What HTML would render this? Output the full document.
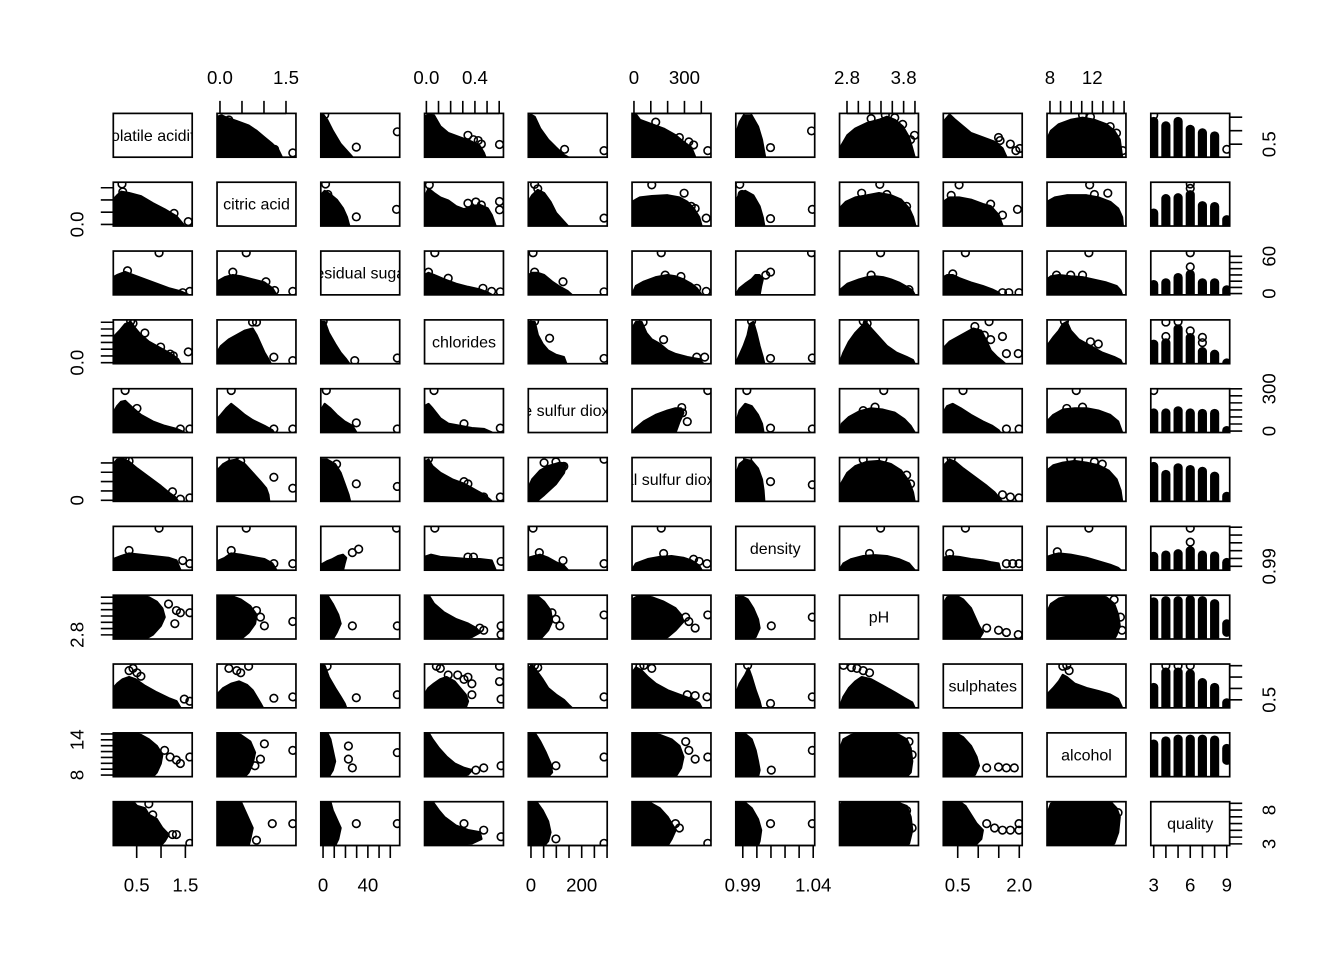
<!DOCTYPE html>
<html><head><meta charset="utf-8">
<style>
html,body{margin:0;padding:0;background:#fff;overflow:hidden;}
svg{display:block;}
text{font-family:"Liberation Sans",Arial,sans-serif;fill:#000;}
.ax{font-size:18.67px;}
.dg{font-size:16px;}
.pn path{stroke:#000;stroke-width:2.4;stroke-linejoin:round;vector-effect:non-scaling-stroke;}
</style></head>
<body>
<svg width="1344" height="960" viewBox="0 0 1344 960" xmlns="http://www.w3.org/2000/svg">
<defs>
<clipPath id="pc"><rect x="0" y="0" width="100" height="100"/></clipPath>
<g id="e"><circle cx="0" cy="0" r="3.8" transform="scale(1.2674,2.2831)" fill="none" stroke="#000" stroke-width="1.6"/></g>
<rect id="b" width="78.9" height="43.8" fill="none" stroke="#000" stroke-width="1.7"/>
<g id="br">
<use href="#b" x="113.3"/><use href="#b" x="217.05"/><use href="#b" x="320.8"/><use href="#b" x="424.55"/><use href="#b" x="528.3"/><use href="#b" x="632.05"/><use href="#b" x="735.8"/><use href="#b" x="839.55"/><use href="#b" x="943.3"/><use href="#b" x="1047.05"/><use href="#b" x="1150.8"/>
</g>
<clipPath id="d0"><rect x="113.3" y="113.4" width="78.9" height="43.8"/></clipPath>
<clipPath id="d1"><rect x="217.05" y="182.23" width="78.9" height="43.8"/></clipPath>
<clipPath id="d2"><rect x="320.8" y="251.06" width="78.9" height="43.8"/></clipPath>
<clipPath id="d3"><rect x="424.55" y="319.89" width="78.9" height="43.8"/></clipPath>
<clipPath id="d4"><rect x="528.3" y="388.72" width="78.9" height="43.8"/></clipPath>
<clipPath id="d5"><rect x="632.05" y="457.55" width="78.9" height="43.8"/></clipPath>
<clipPath id="d6"><rect x="735.8" y="526.38" width="78.9" height="43.8"/></clipPath>
<clipPath id="d7"><rect x="839.55" y="595.21" width="78.9" height="43.8"/></clipPath>
<clipPath id="d8"><rect x="943.3" y="664.04" width="78.9" height="43.8"/></clipPath>
<clipPath id="d9"><rect x="1047.05" y="732.87" width="78.9" height="43.8"/></clipPath>
<clipPath id="d10"><rect x="1150.8" y="801.7" width="78.9" height="43.8"/></clipPath>
</defs>
<rect x="0" y="0" width="1344" height="960" fill="#fff"/>

<g fill="#000" class="pn">
<!-- ROW 0 -->
<g transform="translate(217.05,113.4) scale(.789,.438)"><g clip-path="url(#pc)"><path d="M0,100L0,8 6,5 12,10 25,18 40,28 50,40 60,55 70,70 78,85 82,100Z"/><use href="#e" x="15" y="15"/><use href="#e" x="73" y="82"/><use href="#e" x="96" y="90"/></g></g>
<g transform="translate(320.8,113.4) scale(.789,.438)"><g clip-path="url(#pc)"><path d="M0,100L0,5 3,3 8,15 15,40 25,70 35,90 40,100Z"/><use href="#e" x="5" y="3"/><use href="#e" x="45" y="77"/><use href="#e" x="97" y="42"/></g></g>
<g transform="translate(424.55,113.4) scale(.789,.438)"><g clip-path="url(#pc)"><path d="M0,100L0,8 5,3 12,5 20,30 30,45 45,55 60,65 70,75 75,90 77,100Z"/><use href="#e" x="55" y="50"/><use href="#e" x="62" y="60"/><use href="#e" x="68" y="62"/><use href="#e" x="72" y="70"/><use href="#e" x="95" y="71"/></g></g>
<g transform="translate(528.3,113.4) scale(.789,.438)"><g clip-path="url(#pc)"><path d="M0,100L0,8 3,3 8,8 15,35 25,60 35,78 45,95 50,100Z"/><use href="#e" x="46" y="82"/><use href="#e" x="96" y="85"/></g></g>
<g transform="translate(632.05,113.4) scale(.789,.438)"><g clip-path="url(#pc)"><path d="M0,100L0,5 5,3 10,15 25,25 40,35 55,50 65,65 75,78 80,100Z"/><use href="#e" x="30" y="20"/><use href="#e" x="60" y="55"/><use href="#e" x="72" y="65"/><use href="#e" x="78" y="72"/><use href="#e" x="96" y="85"/></g></g>
<g transform="translate(735.8,113.4) scale(.789,.438)"><g clip-path="url(#pc)"><path d="M0,100L0,50 5,20 10,5 20,5 28,30 33,60 36,90 37,100Z"/><use href="#e" x="15" y="3"/><use href="#e" x="44" y="78"/><use href="#e" x="96" y="40"/></g></g>
<g transform="translate(839.55,113.4) scale(.789,.438)"><g clip-path="url(#pc)"><path d="M0,100L2,75 10,50 20,35 35,22 50,15 60,8 70,15 80,30 88,55 92,80 95,100Z"/><use href="#e" x="40" y="12"/><use href="#e" x="58" y="4"/><use href="#e" x="70" y="10"/><use href="#e" x="80" y="25"/><use href="#e" x="90" y="60"/><use href="#e" x="95" y="50"/></g></g>
<g transform="translate(943.3,113.4) scale(.789,.438)"><g clip-path="url(#pc)"><path d="M0,100L0,20 8,3 15,15 25,30 35,45 50,55 65,65 75,80 80,100Z"/><use href="#e" x="70" y="55"/><use href="#e" x="72" y="62"/><use href="#e" x="85" y="70"/><use href="#e" x="92" y="85"/><use href="#e" x="97" y="80"/></g></g>
<g transform="translate(1047.05,113.4) scale(.789,.438)"><g clip-path="url(#pc)"><path d="M0,100L0,60 5,40 15,25 30,15 45,10 60,15 75,25 85,40 92,60 95,100Z"/><use href="#e" x="45" y="4"/><use href="#e" x="55" y="8"/><use href="#e" x="80" y="30"/><use href="#e" x="88" y="45"/><use href="#e" x="96" y="85"/></g></g>

<!-- ROW 1 -->
<g transform="translate(113.3,182.23) scale(.789,.438)"><g clip-path="url(#pc)"><path d="M0,100L0,40 5,30 10,22 20,25 35,32 50,48 65,62 80,78 88,95 90,100Z"/><use href="#e" x="11" y="4"/><use href="#e" x="12" y="22"/><use href="#e" x="77" y="71"/><use href="#e" x="95" y="90"/></g></g>
<g transform="translate(320.8,182.23) scale(.789,.438)"><g clip-path="url(#pc)"><path d="M0,100L0,30 5,20 12,28 20,40 28,60 33,80 36,100Z"/><use href="#e" x="6" y="4"/><use href="#e" x="9" y="28"/><use href="#e" x="45" y="79"/><use href="#e" x="96" y="62"/></g></g>
<g transform="translate(424.55,182.23) scale(.789,.438)"><g clip-path="url(#pc)"><path d="M0,100L0,35 5,15 12,25 20,35 30,42 40,55 50,62 60,55 70,52 80,60 85,75 90,100Z"/><use href="#e" x="6" y="6"/><use href="#e" x="55" y="48"/><use href="#e" x="65" y="45"/><use href="#e" x="72" y="52"/><use href="#e" x="95" y="44"/><use href="#e" x="95" y="63"/></g></g>
<g transform="translate(528.3,182.23) scale(.789,.438)"><g clip-path="url(#pc)"><path d="M0,100L0,45 5,30 12,18 20,25 28,45 35,70 45,90 50,100Z"/><use href="#e" x="8" y="5"/><use href="#e" x="12" y="15"/><use href="#e" x="96" y="82"/></g></g>
<g transform="translate(632.05,182.23) scale(.789,.438)"><g clip-path="url(#pc)"><path d="M0,100L0,45 10,35 25,32 45,30 60,35 70,45 78,60 85,80 88,100Z"/><use href="#e" x="25" y="6"/><use href="#e" x="66" y="25"/><use href="#e" x="75" y="55"/><use href="#e" x="80" y="60"/><use href="#e" x="94" y="82"/></g></g>
<g transform="translate(735.8,182.23) scale(.789,.438)"><g clip-path="url(#pc)"><path d="M0,100L0,45 5,25 12,20 22,30 30,55 34,80 36,100Z"/><use href="#e" x="5" y="5"/><use href="#e" x="8" y="28"/><use href="#e" x="44" y="83"/><use href="#e" x="97" y="62"/></g></g>
<g transform="translate(839.55,182.23) scale(.789,.438)"><g clip-path="url(#pc)"><path d="M0,100L0,60 8,45 20,35 35,30 50,25 65,30 78,40 88,60 93,80 96,100Z"/><use href="#e" x="28" y="25"/><use href="#e" x="51" y="5"/><use href="#e" x="60" y="28"/><use href="#e" x="85" y="55"/></g></g>
<g transform="translate(943.3,182.23) scale(.789,.438)"><g clip-path="url(#pc)"><path d="M0,100L0,45 8,35 20,35 35,40 50,50 60,55 70,75 75,100Z"/><use href="#e" x="20" y="6"/><use href="#e" x="10" y="30"/><use href="#e" x="60" y="50"/><use href="#e" x="75" y="75"/><use href="#e" x="94" y="62"/></g></g>
<g transform="translate(1047.05,182.23) scale(.789,.438)"><g clip-path="url(#pc)"><path d="M0,100L0,45 10,35 25,30 50,30 65,35 80,45 90,60 95,80 96,100Z"/><use href="#e" x="54" y="6"/><use href="#e" x="77" y="25"/><use href="#e" x="60" y="28"/></g></g>

<!-- ROW 2 -->
<g transform="translate(113.3,251.06) scale(.789,.438)"><g clip-path="url(#pc)"><path d="M0,100L0,60 5,55 15,48 25,55 40,65 55,75 70,85 85,92 95,100Z"/><use href="#e" x="58" y="4"/><use href="#e" x="18" y="45"/><use href="#e" x="88" y="95"/><use href="#e" x="97" y="92"/></g></g>
<g transform="translate(217.05,251.06) scale(.789,.438)"><g clip-path="url(#pc)"><path d="M0,100L0,70 10,60 20,55 30,58 45,65 60,72 70,85 75,100Z"/><use href="#e" x="37" y="4"/><use href="#e" x="20" y="48"/><use href="#e" x="62" y="70"/><use href="#e" x="73" y="90"/><use href="#e" x="96" y="92"/></g></g>
<g transform="translate(424.55,251.06) scale(.789,.438)"><g clip-path="url(#pc)"><path d="M0,100L0,55 5,50 12,55 25,65 40,75 55,82 70,88 80,95 85,100Z"/><use href="#e" x="13" y="4"/><use href="#e" x="5" y="48"/><use href="#e" x="30" y="62"/><use href="#e" x="74" y="85"/><use href="#e" x="85" y="92"/><use href="#e" x="96" y="93"/></g></g>
<g transform="translate(528.3,251.06) scale(.789,.438)"><g clip-path="url(#pc)"><path d="M0,100L0,55 5,50 12,50 20,55 30,70 40,82 50,92 55,100Z"/><use href="#e" x="6" y="4"/><use href="#e" x="8" y="48"/><use href="#e" x="44" y="70"/><use href="#e" x="96" y="93"/></g></g>
<g transform="translate(632.05,251.06) scale(.789,.438)"><g clip-path="url(#pc)"><path d="M0,100L5,80 15,70 30,60 45,55 55,58 65,65 75,75 82,85 88,100Z"/><use href="#e" x="37" y="4"/><use href="#e" x="42" y="55"/><use href="#e" x="62" y="58"/><use href="#e" x="82" y="85"/><use href="#e" x="94" y="92"/></g></g>
<g transform="translate(735.8,251.06) scale(.789,.438)"><g clip-path="url(#pc)"><path d="M0,100L5,85 12,75 20,65 25,55 30,55 34,65 32,80 30,100Z"/><use href="#e" x="44" y="48"/><use href="#e" x="96" y="4"/><use href="#e" x="38" y="55"/></g></g>
<g transform="translate(839.55,251.06) scale(.789,.438)"><g clip-path="url(#pc)"><path d="M0,100L0,90 10,75 25,65 35,60 45,58 55,60 65,65 75,72 85,82 92,90 95,100Z"/><use href="#e" x="52" y="4"/><use href="#e" x="40" y="55"/><use href="#e" x="88" y="88"/></g></g>
<g transform="translate(943.3,251.06) scale(.789,.438)"><g clip-path="url(#pc)"><path d="M0,100L0,60 5,55 12,55 20,62 35,72 50,80 62,88 70,95 72,100Z"/><use href="#e" x="28" y="4"/><use href="#e" x="12" y="52"/><use href="#e" x="75" y="95"/><use href="#e" x="83" y="95"/><use href="#e" x="96" y="95"/></g></g>
<g transform="translate(1047.05,251.06) scale(.789,.438)"><g clip-path="url(#pc)"><path d="M0,100L0,65 5,58 15,55 30,58 45,60 60,66 75,72 88,80 93,90 95,100Z"/><use href="#e" x="53" y="4"/><use href="#e" x="12" y="55"/><use href="#e" x="30" y="55"/><use href="#e" x="45" y="55"/></g></g>

<!-- ROW 3 -->
<g transform="translate(113.3,319.89) scale(.789,.438)"><g clip-path="url(#pc)"><path d="M0,100L0,40 8,25 15,10 22,5 28,20 35,35 45,50 55,60 65,70 75,80 82,90 85,100Z"/><use href="#e" x="22" y="3"/><use href="#e" x="25" y="8"/><use href="#e" x="40" y="30"/><use href="#e" x="60" y="62"/><use href="#e" x="72" y="78"/><use href="#e" x="76" y="82"/><use href="#e" x="95" y="73"/></g></g>
<g transform="translate(217.05,319.89) scale(.789,.438)"><g clip-path="url(#pc)"><path d="M0,100L0,75 5,60 15,45 25,35 35,25 45,20 50,35 55,55 60,75 65,90 68,100Z"/><use href="#e" x="45" y="5"/><use href="#e" x="50" y="5"/><use href="#e" x="38" y="35"/><use href="#e" x="72" y="85"/><use href="#e" x="96" y="93"/></g></g>
<g transform="translate(320.8,319.89) scale(.789,.438)"><g clip-path="url(#pc)"><path d="M0,100L0,5 5,5 10,30 18,55 25,75 32,90 36,100Z"/><use href="#e" x="3" y="3"/><use href="#e" x="43" y="93"/><use href="#e" x="97" y="87"/></g></g>
<g transform="translate(528.3,319.89) scale(.789,.438)"><g clip-path="url(#pc)"><path d="M0,100L0,5 8,5 12,35 18,55 25,70 35,80 45,85 48,100Z"/><use href="#e" x="8" y="3"/><use href="#e" x="27" y="42"/><use href="#e" x="96" y="88"/></g></g>
<g transform="translate(632.05,319.89) scale(.789,.438)"><g clip-path="url(#pc)"><path d="M0,100L0,20 5,5 12,5 18,30 25,45 35,55 45,70 55,78 70,85 85,90 90,100Z"/><use href="#e" x="14" y="5"/><use href="#e" x="40" y="45"/><use href="#e" x="82" y="85"/><use href="#e" x="92" y="85"/></g></g>
<g transform="translate(735.8,319.89) scale(.789,.438)"><g clip-path="url(#pc)"><path d="M0,100L5,80 10,60 15,35 18,10 22,5 26,30 30,60 34,85 36,100Z"/><use href="#e" x="20" y="3"/><use href="#e" x="44" y="88"/><use href="#e" x="97" y="87"/></g></g>
<g transform="translate(839.55,319.89) scale(.789,.438)"><g clip-path="url(#pc)"><path d="M0,100L5,75 12,50 20,30 28,15 33,5 40,20 50,40 60,60 72,75 85,85 93,92 95,100Z"/><use href="#e" x="30" y="3"/><use href="#e" x="35" y="8"/></g></g>
<g transform="translate(943.3,319.89) scale(.789,.438)"><g clip-path="url(#pc)"><path d="M0,100L0,65 8,50 18,40 28,30 38,20 48,25 55,50 60,70 68,85 75,95 78,100Z"/><use href="#e" x="40" y="15"/><use href="#e" x="52" y="35"/><use href="#e" x="58" y="4"/><use href="#e" x="75" y="38"/><use href="#e" x="80" y="77"/><use href="#e" x="95" y="77"/><use href="#e" x="60" y="45"/></g></g>
<g transform="translate(1047.05,319.89) scale(.789,.438)"><g clip-path="url(#pc)"><path d="M0,100L0,60 8,40 15,25 20,10 25,5 30,25 40,45 55,60 70,75 85,85 93,92 95,100Z"/><use href="#e" x="22" y="3"/><use href="#e" x="55" y="50"/><use href="#e" x="65" y="55"/></g></g>

<!-- ROW 4 -->
<g transform="translate(113.3,388.72) scale(.789,.438)"><g clip-path="url(#pc)"><path d="M0,100L0,55 5,40 10,30 15,28 25,45 35,60 50,75 65,85 80,92 90,100Z"/><use href="#e" x="15" y="4"/><use href="#e" x="30" y="45"/><use href="#e" x="85" y="92"/><use href="#e" x="97" y="92"/></g></g>
<g transform="translate(217.05,388.72) scale(.789,.438)"><g clip-path="url(#pc)"><path d="M0,100L0,70 5,60 12,45 18,35 25,45 35,60 45,72 60,85 70,95 72,100Z"/><use href="#e" x="18" y="4"/><use href="#e" x="72" y="92"/><use href="#e" x="96" y="92"/></g></g>
<g transform="translate(320.8,388.72) scale(.789,.438)"><g clip-path="url(#pc)"><path d="M0,100L0,50 5,35 12,45 20,60 30,75 40,85 45,100Z"/><use href="#e" x="7" y="4"/><use href="#e" x="45" y="78"/><use href="#e" x="97" y="92"/></g></g>
<g transform="translate(424.55,388.72) scale(.789,.438)"><g clip-path="url(#pc)"><path d="M0,100L0,40 5,35 10,45 20,68 30,80 45,85 60,90 75,92 85,100Z"/><use href="#e" x="12" y="4"/><use href="#e" x="50" y="80"/><use href="#e" x="96" y="90"/></g></g>
<g transform="translate(632.05,388.72) scale(.789,.438)"><g clip-path="url(#pc)"><path d="M0,100L5,90 15,75 30,60 45,50 55,45 62,45 65,55 60,75 55,100Z"/><use href="#e" x="63" y="43"/><use href="#e" x="64" y="55"/><use href="#e" x="70" y="75"/><use href="#e" x="96" y="4"/></g></g>
<g transform="translate(735.8,388.72) scale(.789,.438)"><g clip-path="url(#pc)"><path d="M0,100L0,80 5,50 12,35 20,40 28,60 33,80 35,100Z"/><use href="#e" x="14" y="4"/><use href="#e" x="44" y="90"/><use href="#e" x="97" y="92"/></g></g>
<g transform="translate(839.55,388.72) scale(.789,.438)"><g clip-path="url(#pc)"><path d="M0,100L3,80 12,65 25,52 40,45 55,48 70,55 82,70 90,85 95,100Z"/><use href="#e" x="56" y="4"/><use href="#e" x="45" y="42"/><use href="#e" x="30" y="50"/></g></g>
<g transform="translate(943.3,388.72) scale(.789,.438)"><g clip-path="url(#pc)"><path d="M0,100L0,55 5,40 12,35 22,45 35,60 50,75 62,85 70,95 72,100Z"/><use href="#e" x="25" y="4"/><use href="#e" x="80" y="92"/><use href="#e" x="96" y="92"/></g></g>
<g transform="translate(1047.05,388.72) scale(.789,.438)"><g clip-path="url(#pc)"><path d="M0,100L0,75 8,60 20,48 35,45 50,45 65,50 80,60 90,75 95,100Z"/><use href="#e" x="37" y="4"/><use href="#e" x="25" y="45"/><use href="#e" x="45" y="42"/></g></g>

<!-- ROW 5 -->
<g transform="translate(113.3,457.55) scale(.789,.438)"><g clip-path="url(#pc)"><path d="M0,100L0,15 5,5 12,3 20,10 30,25 45,45 60,65 70,80 78,90 82,100Z"/><use href="#e" x="15" y="3"/><use href="#e" x="20" y="8"/><use href="#e" x="75" y="78"/><use href="#e" x="85" y="95"/><use href="#e" x="97" y="92"/></g></g>
<g transform="translate(217.05,457.55) scale(.789,.438)"><g clip-path="url(#pc)"><path d="M0,100L0,30 8,15 15,8 25,5 35,15 45,35 55,55 62,70 65,85 66,100Z"/><use href="#e" x="20" y="3"/><use href="#e" x="30" y="8"/><use href="#e" x="72" y="45"/><use href="#e" x="96" y="70"/></g></g>
<g transform="translate(320.8,457.55) scale(.789,.438)"><g clip-path="url(#pc)"><path d="M0,100L0,5 8,5 18,15 25,35 30,60 35,85 37,100Z"/><use href="#e" x="20" y="15"/><use href="#e" x="45" y="60"/><use href="#e" x="97" y="66"/></g></g>
<g transform="translate(424.55,457.55) scale(.789,.438)"><g clip-path="url(#pc)"><path d="M0,100L0,10 5,5 10,20 20,35 35,50 50,60 65,75 75,85 82,95 85,100Z"/><use href="#e" x="5" y="3"/><use href="#e" x="50" y="55"/><use href="#e" x="55" y="60"/><use href="#e" x="75" y="90"/><use href="#e" x="96" y="90"/></g></g>
<g transform="translate(528.3,457.55) scale(.789,.438)"><g clip-path="url(#pc)"><path d="M0,100L0,70 5,50 15,30 25,20 40,12 48,15 45,35 35,60 20,85 10,100Z"/><use href="#e" x="20" y="12"/><use href="#e" x="35" y="10"/><use href="#e" x="40" y="22"/><use href="#e" x="45" y="20"/><use href="#e" x="96" y="4"/></g></g>
<g transform="translate(735.8,457.55) scale(.789,.438)"><g clip-path="url(#pc)"><path d="M0,100L0,40 5,15 12,5 20,8 28,25 33,50 35,75 36,100Z"/><use href="#e" x="15" y="3"/><use href="#e" x="44" y="55"/><use href="#e" x="97" y="62"/></g></g>
<g transform="translate(839.55,457.55) scale(.789,.438)"><g clip-path="url(#pc)"><path d="M0,100L2,60 10,35 20,20 35,10 50,8 65,15 78,30 88,55 93,80 95,100Z"/><use href="#e" x="30" y="5"/><use href="#e" x="55" y="3"/><use href="#e" x="85" y="40"/><use href="#e" x="90" y="60"/></g></g>
<g transform="translate(943.3,457.55) scale(.789,.438)"><g clip-path="url(#pc)"><path d="M0,100L0,20 8,5 15,10 25,25 40,45 55,65 65,80 72,95 74,100Z"/><use href="#e" x="10" y="3"/><use href="#e" x="75" y="85"/><use href="#e" x="85" y="90"/><use href="#e" x="96" y="92"/></g></g>
<g transform="translate(1047.05,457.55) scale(.789,.438)"><g clip-path="url(#pc)"><path d="M0,100L0,30 8,18 20,12 35,8 50,12 65,18 78,30 88,50 93,75 95,100Z"/><use href="#e" x="30" y="3"/><use href="#e" x="40" y="5"/><use href="#e" x="60" y="10"/><use href="#e" x="70" y="15"/></g></g>

<!-- ROW 6 -->
<g transform="translate(113.3,526.38) scale(.789,.438)"><g clip-path="url(#pc)"><path d="M0,100L0,75 10,68 20,62 30,64 50,68 70,72 80,78 85,100Z"/><use href="#e" x="58" y="4"/><use href="#e" x="20" y="55"/><use href="#e" x="88" y="78"/><use href="#e" x="97" y="85"/></g></g>
<g transform="translate(217.05,526.38) scale(.789,.438)"><g clip-path="url(#pc)"><path d="M0,100L0,80 10,72 18,62 30,65 45,70 60,75 70,85 75,100Z"/><use href="#e" x="37" y="4"/><use href="#e" x="18" y="55"/><use href="#e" x="72" y="85"/><use href="#e" x="96" y="85"/></g></g>
<g transform="translate(320.8,526.38) scale(.789,.438)"><g clip-path="url(#pc)"><path d="M0,100L0,88 8,80 15,75 22,68 28,65 32,72 30,85 28,100Z"/><use href="#e" x="48" y="52"/><use href="#e" x="96" y="4"/><use href="#e" x="40" y="60"/></g></g>
<g transform="translate(424.55,526.38) scale(.789,.438)"><g clip-path="url(#pc)"><path d="M0,100L0,70 8,65 20,70 35,72 55,75 70,75 85,78 90,100Z"/><use href="#e" x="13" y="4"/><use href="#e" x="55" y="70"/><use href="#e" x="62" y="70"/><use href="#e" x="97" y="80"/></g></g>
<g transform="translate(528.3,526.38) scale(.789,.438)"><g clip-path="url(#pc)"><path d="M0,100L0,72 8,68 15,65 25,72 35,82 45,90 50,100Z"/><use href="#e" x="6" y="4"/><use href="#e" x="14" y="60"/><use href="#e" x="44" y="78"/><use href="#e" x="96" y="85"/></g></g>
<g transform="translate(632.05,526.38) scale(.789,.438)"><g clip-path="url(#pc)"><path d="M0,100L5,85 20,75 35,70 50,68 65,72 75,78 85,90 88,100Z"/><use href="#e" x="37" y="4"/><use href="#e" x="40" y="62"/><use href="#e" x="78" y="75"/><use href="#e" x="85" y="80"/><use href="#e" x="95" y="85"/></g></g>
<g transform="translate(839.55,526.38) scale(.789,.438)"><g clip-path="url(#pc)"><path d="M0,100L5,85 15,75 30,68 45,66 60,68 75,75 88,85 95,100Z"/><use href="#e" x="52" y="4"/><use href="#e" x="38" y="62"/></g></g>
<g transform="translate(943.3,526.38) scale(.789,.438)"><g clip-path="url(#pc)"><path d="M0,100L0,72 8,68 20,70 35,75 50,78 60,82 70,85 72,100Z"/><use href="#e" x="28" y="4"/><use href="#e" x="8" y="62"/><use href="#e" x="80" y="85"/><use href="#e" x="88" y="85"/><use href="#e" x="96" y="85"/></g></g>
<g transform="translate(1047.05,526.38) scale(.789,.438)"><g clip-path="url(#pc)"><path d="M0,100L0,70 8,65 15,62 30,65 50,72 65,80 80,88 90,95 93,100Z"/><use href="#e" x="53" y="4"/><use href="#e" x="13" y="58"/></g></g>

<!-- ROW 7 -->
<g transform="translate(113.3,595.21) scale(.789,.438)"><g clip-path="url(#pc)"><path d="M0,100L0,0 30,0 45,5 55,15 62,30 65,50 60,70 50,90 40,100Z"/><use href="#e" x="70" y="20"/><use href="#e" x="80" y="35"/><use href="#e" x="85" y="40"/><use href="#e" x="78" y="65"/><use href="#e" x="97" y="40"/></g></g>
<g transform="translate(217.05,595.21) scale(.789,.438)"><g clip-path="url(#pc)"><path d="M0,100L0,0 15,0 30,10 42,25 50,45 48,65 40,85 30,100Z"/><use href="#e" x="50" y="35"/><use href="#e" x="55" y="50"/><use href="#e" x="60" y="70"/><use href="#e" x="96" y="60"/></g></g>
<g transform="translate(320.8,595.21) scale(.789,.438)"><g clip-path="url(#pc)"><path d="M0,100L0,0 8,0 15,20 22,45 25,65 20,85 15,100Z"/><use href="#e" x="40" y="70"/><use href="#e" x="97" y="70"/></g></g>
<g transform="translate(424.55,595.21) scale(.789,.438)"><g clip-path="url(#pc)"><path d="M0,100L0,0 5,0 12,20 25,40 40,55 55,65 65,75 70,85 60,95 45,100Z"/><use href="#e" x="70" y="75"/><use href="#e" x="75" y="80"/><use href="#e" x="97" y="70"/><use href="#e" x="97" y="90"/></g></g>
<g transform="translate(528.3,595.21) scale(.789,.438)"><g clip-path="url(#pc)"><path d="M0,100L0,0 10,0 20,15 28,35 30,60 25,80 15,100Z"/><use href="#e" x="30" y="40"/><use href="#e" x="35" y="55"/><use href="#e" x="40" y="70"/><use href="#e" x="96" y="45"/></g></g>
<g transform="translate(632.05,595.21) scale(.789,.438)"><g clip-path="url(#pc)"><path d="M0,100L0,10 10,0 25,5 40,15 55,30 62,45 65,60 55,80 45,95 40,100Z"/><use href="#e" x="68" y="50"/><use href="#e" x="72" y="60"/><use href="#e" x="80" y="75"/><use href="#e" x="96" y="45"/></g></g>
<g transform="translate(735.8,595.21) scale(.789,.438)"><g clip-path="url(#pc)"><path d="M0,100L0,10 5,0 15,10 22,30 28,55 30,75 25,95 20,100Z"/><use href="#e" x="45" y="70"/><use href="#e" x="97" y="50"/></g></g>
<g transform="translate(943.3,595.21) scale(.789,.438)"><g clip-path="url(#pc)"><path d="M0,100L0,20 5,5 15,0 25,10 35,30 40,50 45,70 50,85 45,100Z"/><use href="#e" x="55" y="75"/><use href="#e" x="70" y="80"/><use href="#e" x="80" y="85"/><use href="#e" x="95" y="90"/></g></g>
<g transform="translate(1047.05,595.21) scale(.789,.438)"><g clip-path="url(#pc)"><path d="M0,100L0,40 5,20 15,8 35,0 60,0 75,5 85,20 90,45 92,70 88,90 85,100Z"/><use href="#e" x="85" y="10"/><use href="#e" x="93" y="50"/><use href="#e" x="95" y="80"/></g></g>

<!-- ROW 8 -->
<g transform="translate(113.3,664.04) scale(.789,.438)"><g clip-path="url(#pc)"><path d="M0,100L0,55 5,45 12,35 20,30 28,35 40,50 55,65 70,78 80,85 85,100Z"/><use href="#e" x="20" y="15"/><use href="#e" x="25" y="10"/><use href="#e" x="30" y="20"/><use href="#e" x="35" y="28"/><use href="#e" x="90" y="80"/><use href="#e" x="97" y="85"/></g></g>
<g transform="translate(217.05,664.04) scale(.789,.438)"><g clip-path="url(#pc)"><path d="M0,100L0,70 8,55 18,45 28,40 38,48 45,60 50,75 55,90 58,100Z"/><use href="#e" x="15" y="10"/><use href="#e" x="25" y="15"/><use href="#e" x="30" y="20"/><use href="#e" x="40" y="5"/><use href="#e" x="72" y="78"/><use href="#e" x="96" y="75"/></g></g>
<g transform="translate(320.8,664.04) scale(.789,.438)"><g clip-path="url(#pc)"><path d="M0,100L0,0 5,5 10,30 18,55 25,75 30,90 32,100Z"/><use href="#e" x="8" y="5"/><use href="#e" x="45" y="77"/><use href="#e" x="97" y="70"/></g></g>
<g transform="translate(424.55,664.04) scale(.789,.438)"><g clip-path="url(#pc)"><path d="M0,100L0,70 5,55 12,45 20,35 28,30 38,40 45,55 52,70 55,85 52,100Z"/><use href="#e" x="15" y="5"/><use href="#e" x="20" y="10"/><use href="#e" x="30" y="25"/><use href="#e" x="42" y="25"/><use href="#e" x="50" y="35"/><use href="#e" x="55" y="30"/><use href="#e" x="60" y="45"/><use href="#e" x="95" y="5"/><use href="#e" x="95" y="40"/><use href="#e" x="97" y="80"/><use href="#e" x="60" y="70"/></g></g>
<g transform="translate(528.3,664.04) scale(.789,.438)"><g clip-path="url(#pc)"><path d="M0,100L0,10 5,3 10,15 18,35 25,55 35,70 45,82 52,95 55,100Z"/><use href="#e" x="8" y="3"/><use href="#e" x="12" y="8"/><use href="#e" x="96" y="75"/></g></g>
<g transform="translate(632.05,664.04) scale(.789,.438)"><g clip-path="url(#pc)"><path d="M0,100L0,20 5,8 12,15 20,30 30,45 45,60 60,70 75,80 85,90 88,100Z"/><use href="#e" x="10" y="5"/><use href="#e" x="15" y="3"/><use href="#e" x="25" y="10"/><use href="#e" x="70" y="70"/><use href="#e" x="80" y="72"/><use href="#e" x="95" y="75"/></g></g>
<g transform="translate(735.8,664.04) scale(.789,.438)"><g clip-path="url(#pc)"><path d="M0,100L0,70 5,45 12,25 16,10 20,30 25,60 30,85 32,100Z"/><use href="#e" x="15" y="3"/><use href="#e" x="44" y="90"/><use href="#e" x="97" y="75"/></g></g>
<g transform="translate(839.55,664.04) scale(.789,.438)"><g clip-path="url(#pc)"><path d="M0,100L5,75 12,55 20,40 28,30 40,35 55,50 70,65 82,78 92,88 95,100Z"/><use href="#e" x="5" y="3"/><use href="#e" x="15" y="8"/><use href="#e" x="22" y="10"/><use href="#e" x="30" y="15"/><use href="#e" x="38" y="20"/></g></g>
<g transform="translate(1047.05,664.04) scale(.789,.438)"><g clip-path="url(#pc)"><path d="M0,100L0,70 8,55 15,40 20,25 25,30 35,45 50,55 65,62 80,70 90,80 95,100Z"/><use href="#e" x="20" y="5"/><use href="#e" x="25" y="3"/><use href="#e" x="28" y="15"/></g></g>

<!-- ROW 9 -->
<g transform="translate(113.3,732.87) scale(.789,.438)"><g clip-path="url(#pc)"><path d="M0,100L0,3 20,0 35,5 45,15 55,30 62,50 60,70 55,90 50,100Z"/><use href="#e" x="65" y="40"/><use href="#e" x="72" y="55"/><use href="#e" x="80" y="62"/><use href="#e" x="85" y="70"/><use href="#e" x="97" y="55"/></g></g>
<g transform="translate(217.05,732.87) scale(.789,.438)"><g clip-path="url(#pc)"><path d="M0,100L0,2 15,0 30,5 42,20 48,45 45,70 40,90 35,100Z"/><use href="#e" x="48" y="75"/><use href="#e" x="55" y="60"/><use href="#e" x="60" y="25"/><use href="#e" x="96" y="40"/></g></g>
<g transform="translate(320.8,732.87) scale(.789,.438)"><g clip-path="url(#pc)"><path d="M0,100L0,0 8,0 12,15 15,40 18,65 15,85 10,100Z"/><use href="#e" x="35" y="30"/><use href="#e" x="35" y="60"/><use href="#e" x="40" y="80"/><use href="#e" x="97" y="45"/></g></g>
<g transform="translate(424.55,732.87) scale(.789,.438)"><g clip-path="url(#pc)"><path d="M0,100L0,0 5,0 10,15 18,35 28,55 38,70 50,80 60,85 55,95 45,100Z"/><use href="#e" x="65" y="85"/><use href="#e" x="75" y="80"/><use href="#e" x="97" y="75"/></g></g>
<g transform="translate(528.3,732.87) scale(.789,.438)"><g clip-path="url(#pc)"><path d="M0,100L0,0 8,0 15,20 22,45 28,70 30,90 25,100Z"/><use href="#e" x="35" y="75"/><use href="#e" x="96" y="55"/></g></g>
<g transform="translate(632.05,732.87) scale(.789,.438)"><g clip-path="url(#pc)"><path d="M0,100L0,0 15,0 35,5 50,15 60,30 65,55 62,80 55,100Z"/><use href="#e" x="68" y="20"/><use href="#e" x="72" y="40"/><use href="#e" x="80" y="60"/><use href="#e" x="96" y="55"/></g></g>
<g transform="translate(735.8,732.87) scale(.789,.438)"><g clip-path="url(#pc)"><path d="M0,100L0,0 10,0 20,15 25,40 28,65 30,85 28,100Z"/><use href="#e" x="45" y="85"/><use href="#e" x="97" y="40"/></g></g>
<g transform="translate(839.55,732.87) scale(.789,.438)"><g clip-path="url(#pc)"><path d="M0,100L0,40 5,15 15,5 30,0 60,0 75,5 85,15 90,35 92,65 90,90 85,100Z"/><use href="#e" x="88" y="20"/><use href="#e" x="92" y="50"/></g></g>
<g transform="translate(943.3,732.87) scale(.789,.438)"><g clip-path="url(#pc)"><path d="M0,100L0,0 15,0 25,10 35,30 42,55 45,75 40,95 35,100Z"/><use href="#e" x="55" y="80"/><use href="#e" x="70" y="78"/><use href="#e" x="80" y="80"/><use href="#e" x="90" y="80"/></g></g>

<!-- ROW 10 -->
<g transform="translate(113.3,801.7) scale(.789,.438)"><g clip-path="url(#pc)"><path d="M0,100L0,0 25,0 30,10 40,15 45,30 55,40 62,60 70,75 65,90 60,100Z"/><use href="#e" x="45" y="5"/><use href="#e" x="50" y="30"/><use href="#e" x="75" y="75"/><use href="#e" x="80" y="75"/><use href="#e" x="97" y="95"/></g></g>
<g transform="translate(217.05,801.7) scale(.789,.438)"><g clip-path="url(#pc)"><path d="M0,100L0,0 30,0 35,20 40,40 45,60 42,85 40,100Z"/><use href="#e" x="70" y="50"/><use href="#e" x="96" y="50"/><use href="#e" x="50" y="88"/></g></g>
<g transform="translate(320.8,801.7) scale(.789,.438)"><g clip-path="url(#pc)"><path d="M0,100L0,0 12,0 15,20 20,40 25,60 22,85 18,100Z"/><use href="#e" x="45" y="50"/><use href="#e" x="97" y="50"/></g></g>
<g transform="translate(424.55,801.7) scale(.789,.438)"><g clip-path="url(#pc)"><path d="M0,100L0,0 10,0 18,20 25,35 40,55 55,65 70,70 72,85 60,95 35,100Z"/><use href="#e" x="50" y="50"/><use href="#e" x="75" y="65"/><use href="#e" x="97" y="80"/></g></g>
<g transform="translate(528.3,801.7) scale(.789,.438)"><g clip-path="url(#pc)"><path d="M0,100L0,0 10,0 18,20 25,45 28,70 25,90 20,100Z"/><use href="#e" x="35" y="85"/><use href="#e" x="96" y="95"/></g></g>
<g transform="translate(632.05,801.7) scale(.789,.438)"><g clip-path="url(#pc)"><path d="M0,100L0,0 20,0 35,15 45,35 50,50 55,65 50,85 45,100Z"/><use href="#e" x="55" y="50"/><use href="#e" x="60" y="60"/><use href="#e" x="96" y="95"/></g></g>
<g transform="translate(735.8,801.7) scale(.789,.438)"><g clip-path="url(#pc)"><path d="M0,100L0,0 10,0 20,15 28,40 32,65 30,90 28,100Z"/><use href="#e" x="44" y="50"/><use href="#e" x="97" y="50"/></g></g>
<g transform="translate(839.55,801.7) scale(.789,.438)"><g clip-path="url(#pc)"><path d="M0,100L0,10 5,0 70,0 85,10 90,35 92,65 88,95 85,100Z"/><use href="#e" x="85" y="20"/><use href="#e" x="92" y="60"/></g></g>
<g transform="translate(943.3,801.7) scale(.789,.438)"><g clip-path="url(#pc)"><path d="M0,100L0,0 20,0 28,10 35,30 42,50 50,65 48,85 40,100Z"/><use href="#e" x="55" y="50"/><use href="#e" x="65" y="60"/><use href="#e" x="75" y="65"/><use href="#e" x="85" y="65"/><use href="#e" x="96" y="50"/><use href="#e" x="96" y="65"/></g></g>
<g transform="translate(1047.05,801.7) scale(.789,.438)"><g clip-path="url(#pc)"><path d="M0,100L0,30 5,5 15,0 80,0 88,15 92,35 90,70 85,95 80,100Z"/><use href="#e" x="15" y="5"/><use href="#e" x="90" y="25"/></g></g>

<!-- QUALITY COLUMN (col 10) bars -->
<g transform="translate(1150.8,113.4) scale(.789,.438)"><g clip-path="url(#pc)">
<rect x="-2.1" y="8" width="11.6" height="110" rx="5.8" ry="10"/><rect x="13.3" y="18" width="11.6" height="100" rx="5.8" ry="10"/><rect x="28.8" y="8" width="11.6" height="110" rx="5.8" ry="10"/><rect x="44.2" y="26" width="11.6" height="100" rx="5.8" ry="10"/><rect x="59.6" y="34" width="11.6" height="100" rx="5.8" ry="10"/><rect x="75.1" y="41" width="11.6" height="100" rx="5.8" ry="10"/><use href="#e" x="96.3" y="82"/><use href="#e" x="3.7" y="4"/></g></g>
<g transform="translate(1150.8,182.23) scale(.789,.438)"><g clip-path="url(#pc)">
<rect x="-2.1" y="60" width="11.6" height="60" rx="5.8" ry="10"/><rect x="13.3" y="27" width="11.6" height="100" rx="5.8" ry="10"/><rect x="28.8" y="25" width="11.6" height="100" rx="5.8" ry="10"/><rect x="44.2" y="18" width="11.6" height="100" rx="5.8" ry="10"/><rect x="59.6" y="43" width="11.6" height="100" rx="5.8" ry="10"/><rect x="75.1" y="45" width="11.6" height="100" rx="5.8" ry="10"/><rect x="90.5" y="75" width="11.6" height="50" rx="5.8" ry="10"/><use href="#e" x="50" y="4"/><use href="#e" x="50" y="14"/></g></g>
<g transform="translate(1150.8,251.06) scale(.789,.438)"><g clip-path="url(#pc)">
<rect x="-2.1" y="66" width="11.6" height="60" rx="5.8" ry="10"/><rect x="13.3" y="62" width="11.6" height="60" rx="5.8" ry="10"/><rect x="28.8" y="50" width="11.6" height="70" rx="5.8" ry="10"/><rect x="44.2" y="43" width="11.6" height="70" rx="5.8" ry="10"/><rect x="59.6" y="62" width="11.6" height="60" rx="5.8" ry="10"/><rect x="75.1" y="62" width="11.6" height="60" rx="5.8" ry="10"/><rect x="90.5" y="78" width="11.6" height="40" rx="5.8" ry="10"/><use href="#e" x="50" y="4"/><use href="#e" x="50" y="36"/></g></g>
<g transform="translate(1150.8,319.89) scale(.789,.438)"><g clip-path="url(#pc)">
<rect x="-2.1" y="45" width="11.6" height="70" rx="5.8" ry="10"/><rect x="13.3" y="42" width="11.6" height="70" rx="5.8" ry="10"/><rect x="28.8" y="10" width="11.6" height="100" rx="5.8" ry="10"/><rect x="44.2" y="30" width="11.6" height="100" rx="5.8" ry="10"/><rect x="59.6" y="62" width="11.6" height="60" rx="5.8" ry="10"/><rect x="75.1" y="68" width="11.6" height="60" rx="5.8" ry="10"/><rect x="90.5" y="88" width="11.6" height="40" rx="5.8" ry="10"/><use href="#e" x="19.1" y="38"/><use href="#e" x="34.6" y="4"/><use href="#e" x="19.1" y="5"/><use href="#e" x="50" y="25"/><use href="#e" x="65.4" y="40"/><use href="#e" x="65.4" y="52"/></g></g>
<g transform="translate(1150.8,388.72) scale(.789,.438)"><g clip-path="url(#pc)">
<rect x="-2.1" y="45" width="11.6" height="70" rx="5.8" ry="10"/><rect x="13.3" y="45" width="11.6" height="70" rx="5.8" ry="10"/><rect x="28.8" y="40" width="11.6" height="70" rx="5.8" ry="10"/><rect x="44.2" y="45" width="11.6" height="70" rx="5.8" ry="10"/><rect x="59.6" y="46" width="11.6" height="70" rx="5.8" ry="10"/><rect x="75.1" y="46" width="11.6" height="70" rx="5.8" ry="10"/><rect x="90.5" y="85" width="11.6" height="40" rx="5.8" ry="10"/><use href="#e" x="3.7" y="4"/></g></g>
<g transform="translate(1150.8,457.55) scale(.789,.438)"><g clip-path="url(#pc)">
<rect x="-2.1" y="10" width="11.6" height="110" rx="5.8" ry="10"/><rect x="13.3" y="28" width="11.6" height="100" rx="5.8" ry="10"/><rect x="28.8" y="13" width="11.6" height="100" rx="5.8" ry="10"/><rect x="44.2" y="17" width="11.6" height="100" rx="5.8" ry="10"/><rect x="59.6" y="21" width="11.6" height="100" rx="5.8" ry="10"/><rect x="75.1" y="32" width="11.6" height="100" rx="5.8" ry="10"/><rect x="90.5" y="78" width="11.6" height="40" rx="5.8" ry="10"/></g></g>
<g transform="translate(1150.8,526.38) scale(.789,.438)"><g clip-path="url(#pc)">
<rect x="-2.1" y="58" width="11.6" height="60" rx="5.8" ry="10"/><rect x="13.3" y="55" width="11.6" height="60" rx="5.8" ry="10"/><rect x="28.8" y="52" width="11.6" height="60" rx="5.8" ry="10"/><rect x="44.2" y="45" width="11.6" height="70" rx="5.8" ry="10"/><rect x="59.6" y="55" width="11.6" height="60" rx="5.8" ry="10"/><rect x="75.1" y="57" width="11.6" height="60" rx="5.8" ry="10"/><rect x="90.5" y="72" width="11.6" height="40" rx="5.8" ry="10"/><use href="#e" x="50" y="4"/><use href="#e" x="50" y="36"/></g></g>
<g transform="translate(1150.8,595.21) scale(.789,.438)"><g clip-path="url(#pc)">
<rect x="-2.1" y="5" width="11.6" height="110" rx="5.8" ry="10"/><rect x="13.3" y="2" width="11.6" height="110" rx="5.8" ry="10"/><rect x="28.8" y="2" width="11.6" height="110" rx="5.8" ry="10"/><rect x="44.2" y="0" width="11.6" height="110" rx="5.8" ry="10"/><rect x="59.6" y="2" width="11.6" height="110" rx="5.8" ry="10"/><rect x="75.1" y="9" width="11.6" height="110" rx="5.8" ry="10"/><rect x="90.5" y="55" width="11.6" height="40" rx="5.8" ry="10"/></g></g>
<g transform="translate(1150.8,664.04) scale(.789,.438)"><g clip-path="url(#pc)">
<rect x="-2.1" y="43" width="11.6" height="70" rx="5.8" ry="10"/><rect x="13.3" y="8" width="11.6" height="110" rx="5.8" ry="10"/><rect x="28.8" y="8" width="11.6" height="110" rx="5.8" ry="10"/><rect x="44.2" y="12" width="11.6" height="110" rx="5.8" ry="10"/><rect x="59.6" y="32" width="11.6" height="100" rx="5.8" ry="10"/><rect x="75.1" y="43" width="11.6" height="70" rx="5.8" ry="10"/><rect x="90.5" y="78" width="11.6" height="40" rx="5.8" ry="10"/><use href="#e" x="19.1" y="4"/><use href="#e" x="34.6" y="4"/><use href="#e" x="50" y="4"/></g></g>
<g transform="translate(1150.8,732.87) scale(.789,.438)"><g clip-path="url(#pc)">
<rect x="-2.1" y="15" width="11.6" height="110" rx="5.8" ry="10"/><rect x="13.3" y="8" width="11.6" height="110" rx="5.8" ry="10"/><rect x="28.8" y="4" width="11.6" height="110" rx="5.8" ry="10"/><rect x="44.2" y="4" width="11.6" height="110" rx="5.8" ry="10"/><rect x="59.6" y="4" width="11.6" height="110" rx="5.8" ry="10"/><rect x="75.1" y="6" width="11.6" height="110" rx="5.8" ry="10"/><rect x="90.5" y="25" width="11.6" height="48" rx="5.8" ry="10"/></g></g>
</g>

<!-- boxes -->
<use href="#br" y="113.4"/><use href="#br" y="182.23"/><use href="#br" y="251.06"/><use href="#br" y="319.89"/><use href="#br" y="388.72"/><use href="#br" y="457.55"/><use href="#br" y="526.38"/><use href="#br" y="595.21"/><use href="#br" y="664.04"/><use href="#br" y="732.87"/><use href="#br" y="801.7"/>

<!-- ticks -->
<path fill="none" stroke="#000" stroke-width="1.6" d="
M219.97,113.4V100.9M241.98,113.4V100.9M263.98,113.4V100.9M285.99,113.4V100.9M219.97,113.4H285.99
M426.38,113.4V100.9M438.52,113.4V100.9M450.65,113.4V100.9M462.79,113.4V100.9M474.92,113.4V100.9M487.06,113.4V100.9M499.19,113.4V100.9M426.38,113.4H499.19
M633.96,113.4V100.9M650.8,113.4V100.9M667.63,113.4V100.9M684.46,113.4V100.9M701.29,113.4V100.9M633.96,113.4H701.29
M847,113.4V100.9M858.33,113.4V100.9M869.65,113.4V100.9M880.98,113.4V100.9M892.31,113.4V100.9M903.63,113.4V100.9M914.96,113.4V100.9M847,113.4H914.96
M1049.97,113.4V100.9M1060.56,113.4V100.9M1071.15,113.4V100.9M1081.73,113.4V100.9M1092.32,113.4V100.9M1102.91,113.4V100.9M1113.5,113.4V100.9M1124.09,113.4V100.9M1049.97,113.4H1124.09
M136.68,845.5V858M161.03,845.5V858M185.38,845.5V858M136.68,845.5H185.38
M323.05,845.5V858M334.25,845.5V858M345.46,845.5V858M356.66,845.5V858M367.87,845.5V858M379.07,845.5V858M390.28,845.5V858M323.05,845.5H390.28
M530.97,845.5V858M543.65,845.5V858M556.33,845.5V858M569.02,845.5V858M581.7,845.5V858M594.38,845.5V858M607.07,845.5V858M530.97,845.5H607.07
M742.79,845.5V858M756.87,845.5V858M770.96,845.5V858M785.04,845.5V858M799.13,845.5V858M813.21,845.5V858M742.79,845.5H813.21
M957.71,845.5V858M978.23,845.5V858M998.76,845.5V858M1019.28,845.5V858M957.71,845.5H1019.28
M1153.72,845.5V858M1165.9,845.5V858M1178.07,845.5V858M1190.25,845.5V858M1202.42,845.5V858M1214.6,845.5V858M1226.78,845.5V858M1153.72,845.5H1226.78
M113.3,224.41H100.8M113.3,212.19H100.8M113.3,199.98H100.8M113.3,187.76H100.8M113.3,224.41V187.76
M113.3,362.67H100.8M113.3,355.94H100.8M113.3,349.2H100.8M113.3,342.46H100.8M113.3,335.72H100.8M113.3,328.99H100.8M113.3,322.25H100.8M113.3,362.67V322.25
M113.3,500.29H100.8M113.3,490.95H100.8M113.3,481.6H100.8M113.3,472.26H100.8M113.3,462.91H100.8M113.3,500.29V462.91
M113.3,634.87H100.8M113.3,628.59H100.8M113.3,622.3H100.8M113.3,616.01H100.8M113.3,609.72H100.8M113.3,603.43H100.8M113.3,597.14H100.8M113.3,634.87V597.14
M113.3,775.05H100.8M113.3,769.17H100.8M113.3,763.29H100.8M113.3,757.41H100.8M113.3,751.54H100.8M113.3,745.66H100.8M113.3,739.78H100.8M113.3,733.9H100.8M113.3,775.05V733.9
M1229.7,144.22H1242.2M1229.7,130.7H1242.2M1229.7,117.18H1242.2M1229.7,144.22V117.18
M1229.7,293.61H1242.2M1229.7,287.39H1242.2M1229.7,281.17H1242.2M1229.7,274.95H1242.2M1229.7,268.73H1242.2M1229.7,262.51H1242.2M1229.7,256.29H1242.2M1229.7,293.61V256.29
M1229.7,431.04H1242.2M1229.7,424H1242.2M1229.7,416.96H1242.2M1229.7,409.92H1242.2M1229.7,402.87H1242.2M1229.7,395.83H1242.2M1229.7,388.79H1242.2M1229.7,431.04V388.79
M1229.7,566.3H1242.2M1229.7,558.48H1242.2M1229.7,550.66H1242.2M1229.7,542.84H1242.2M1229.7,535.02H1242.2M1229.7,527.2H1242.2M1229.7,566.3V527.2
M1229.7,699.84H1242.2M1229.7,688.45H1242.2M1229.7,677.06H1242.2M1229.7,665.67H1242.2M1229.7,699.84V665.67
M1229.7,843.88H1242.2M1229.7,837.12H1242.2M1229.7,830.36H1242.2M1229.7,823.6H1242.2M1229.7,816.84H1242.2M1229.7,810.08H1242.2M1229.7,803.32H1242.2M1229.7,843.88V803.32
"/>

<!-- diagonal labels -->
<g class="dg" text-anchor="middle">
<text x="152.75" y="140.8" clip-path="url(#d0)">volatile acidity</text>
<text x="256.5" y="209.6" clip-path="url(#d1)">citric acid</text>
<text x="360.25" y="278.5" clip-path="url(#d2)">residual sugar</text>
<text x="464.0" y="347.3" clip-path="url(#d3)">chlorides</text>
<text x="567.75" y="416.1" clip-path="url(#d4)">free sulfur dioxide</text>
<text x="671.5" y="485.0" clip-path="url(#d5)">total sulfur dioxide</text>
<text x="775.25" y="553.8" clip-path="url(#d6)">density</text>
<text x="879.0" y="622.6" clip-path="url(#d7)">pH</text>
<text x="982.75" y="691.4" clip-path="url(#d8)">sulphates</text>
<text x="1086.5" y="760.3" clip-path="url(#d9)">alcohol</text>
<text x="1190.25" y="829.1" clip-path="url(#d10)">quality</text>
</g>
<!-- axis labels -->
<g class="ax" text-anchor="middle">
<text x="219.97" y="84">0.0</text>
<text x="285.99" y="84">1.5</text>
<text x="426.38" y="84">0.0</text>
<text x="474.92" y="84">0.4</text>
<text x="633.96" y="84">0</text>
<text x="684.46" y="84">300</text>
<text x="847.0" y="84">2.8</text>
<text x="903.63" y="84">3.8</text>
<text x="1049.97" y="84">8</text>
<text x="1092.32" y="84">12</text>
<text x="136.68" y="891.5">0.5</text>
<text x="185.38" y="891.5">1.5</text>
<text x="323.05" y="891.5">0</text>
<text x="367.87" y="891.5">40</text>
<text x="530.97" y="891.5">0</text>
<text x="581.7" y="891.5">200</text>
<text x="742.79" y="891.5">0.99</text>
<text x="813.21" y="891.5">1.04</text>
<text x="957.71" y="891.5">0.5</text>
<text x="1019.28" y="891.5">2.0</text>
<text x="1153.72" y="891.5">3</text>
<text x="1190.25" y="891.5">6</text>
<text x="1226.78" y="891.5">9</text>
<text transform="translate(83.5,224.41) rotate(-90)">0.0</text>
<text transform="translate(83.5,362.67) rotate(-90)">0.0</text>
<text transform="translate(83.5,500.29) rotate(-90)">0</text>
<text transform="translate(83.5,634.87) rotate(-90)">2.8</text>
<text transform="translate(83.5,775.05) rotate(-90)">8</text>
<text transform="translate(83.5,739.78) rotate(-90)">14</text>
<text transform="translate(1275.3,144.22) rotate(-90)">0.5</text>
<text transform="translate(1275.3,293.61) rotate(-90)">0</text>
<text transform="translate(1275.3,256.29) rotate(-90)">60</text>
<text transform="translate(1275.3,431.04) rotate(-90)">0</text>
<text transform="translate(1275.3,388.79) rotate(-90)">300</text>
<text transform="translate(1275.3,566.3) rotate(-90)">0.99</text>
<text transform="translate(1275.3,699.84) rotate(-90)">0.5</text>
<text transform="translate(1275.3,843.88) rotate(-90)">3</text>
<text transform="translate(1275.3,810.08) rotate(-90)">8</text>
</g>
</svg>
</body></html>
